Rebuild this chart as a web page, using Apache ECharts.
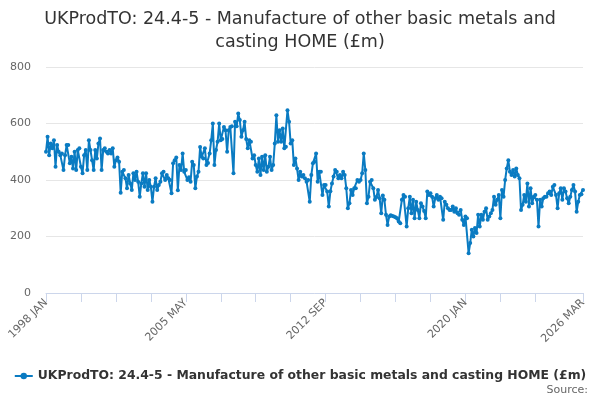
<!DOCTYPE html>
<html>
<head>
<meta charset="utf-8">
<script src="https://cdn.jsdelivr.net/npm/echarts@6/dist/echarts.min.js"></script>
<style>
  html, body { margin: 0; padding: 0; background: #fff; }
  #chart { width: 600px; height: 400px; }
</style>
</head>
<body>
<div id="chart"></div>
<script>
// 标题/图例文字
var titleText = 'UKProdTO: 24.4-5 - Manufacture of other basic metals and\ncasting HOME (£m)';
var seriesName = 'UKProdTO: 24.4-5 - Manufacture of other basic metals and casting HOME (£m)';

// 月份 1998 JAN .. 2026 MAR
var monthNames = ['JAN','FEB','MAR','APR','MAY','JUN','JUL','AUG','SEP','OCT','NOV','DEC'];
var startYear = 1998;
var endYear = 2026, endMonth = 3;

// 每年的月度数值
var values = [
  500, 553, 488, 529, 512, 541, 447, 524, 500, 488, 494, 435, // 1998
  488, 524, 524, 459, 482, 441, 500, 435, 506, 512, 447, 424, // 1999
  488, 506, 435, 541, 506, 470, 435, 506, 476, 529, 547, 435, // 2000
  506, 512, 500, 494, 506, 494, 512, 447, 470, 480, 465, 355, // 2001
  429, 435, 406, 371, 418, 388, 365, 424, 400, 429, 394, 341, // 2002
  388, 424, 376, 424, 365, 400, 376, 323, 376, 406, 365, 382, // 2003
  394, 424, 429, 400, 418, 406, 400, 353, 459, 470, 480, 364, // 2004
  453, 435, 494, 429, 435, 400, 410, 394, 465, 453, 371, 412, // 2005
  429, 517, 482, 476, 512, 453, 460, 494, 541, 600, 453, 506, // 2006
  535, 600, 541, 545, 588, 576, 500, 576, 588, 590, 424, 606, // 2007
  590, 635, 612, 553, 576, 606, 545, 512, 541, 535, 476, 488, // 2008
  453, 429, 476, 418, 482, 435, 488, 429, 447, 482, 435, 453, // 2009
  529, 629, 535, 576, 535, 582, 512, 518, 647, 606, 529, 541, // 2010
  453, 476, 441, 400, 429, 412, 418, 406, 394, 400, 323, 418, // 2011
  459, 465, 494, 394, 429, 429, 347, 382, 382, 359, 306, 360, // 2012
  388, 412, 435, 429, 406, 418, 406, 429, 418, 371, 300, 318, // 2013
  365, 347, 371, 371, 400, 394, 400, 424, 494, 435, 318, 341, // 2014
  394, 400, 371, 330, 340, 365, 335, 282, 345, 330, 277, 241, // 2015
  271, 275, 273, 271, 268, 265, 253, 247, 330, 347, 341, 235, // 2016
  300, 341, 282, 330, 265, 323, 294, 265, 318, 306, 290, 265, // 2017
  359, 347, 353, 341, 306, 335, 347, 330, 341, 335, 259, 323, // 2018
  312, 300, 294, 294, 306, 288, 300, 282, 277, 294, 259, 241, // 2019
  271, 265, 141, 177, 224, 200, 230, 212, 277, 235, 277, 259, // 2020
  288, 300, 259, 271, 282, 294, 341, 312, 330, 347, 265, 365, // 2021
  341, 400, 441, 470, 429, 418, 435, 412, 441, 418, 406, 294, // 2022
  312, 347, 323, 388, 306, 371, 318, 341, 347, 330, 235, 330, // 2023
  306, 335, 341, 341, 353, 359, 347, 376, 382, 347, 300, 353, // 2024
  371, 330, 371, 359, 335, 318, 341, 365, 382, 359, 288, 323, // 2025
  347, 350, 365                                               // 2026
];

// y轴刻度
var yTicks = [0, 200, 400, 600, 800];

var categories = [];
for (var y = startYear; y <= endYear; y++) {
  for (var m = 0; m < 12; m++) {
    if (y === endYear && m >= endMonth) break;
    categories.push(y + ' ' + monthNames[m]);
  }
}
var lastIdx = categories.length - 1;

var chart = echarts.init(document.getElementById('chart'));

var option = {
  animation: false,
  textStyle: { fontFamily: 'DejaVu Sans' },
  title: [{
    text: titleText,
    left: 'center',
    top: 3,
    textStyle: { fontSize: 17.5, fontWeight: 'normal', color: '#333', lineHeight: 23, fontFamily: 'DejaVu Sans' }
  }],
  legend: {
    data: [seriesName],
    top: 365,
    left: 'center',
    itemWidth: 18,
    itemHeight: 8,
    textStyle: { fontSize: 12.4, fontWeight: 'bold', color: '#333', fontFamily: 'DejaVu Sans' }
  },
  graphic: [{
    type: 'text',
    right: 12,
    top: 385,
    style: { text: 'Source:', fontSize: 11, fill: '#666', fontFamily: 'DejaVu Sans' }
  }],
  grid: { left: 46, right: 17, top: 67, bottom: 107 },
  xAxis: [{
    type: 'category',
    boundaryGap: false,
    data: categories,
    axisLine: { lineStyle: { color: '#ccd6eb' } },
    axisTick: {
      length: 9,
      lineStyle: { color: '#ccd6eb' },
      interval: function (i) { return (i % 22 === 0 && i <= 308) || i === lastIdx; }
    },
    axisLabel: {
      rotate: 45,
      color: '#666',
      fontSize: 11,
      margin: 8,
      interval: function (i) { return i % 88 === 0 || i === lastIdx; }
    }
  }],
  yAxis: [{
    type: 'value',
    min: yTicks[0],
    max: yTicks[yTicks.length - 1],
    interval: 200,
    axisLine: { show: false },
    axisTick: { show: false },
    axisLabel: { color: '#666', fontSize: 11, margin: 15 },
    splitLine: { lineStyle: { color: '#e6e6e6' } }
  }],
  series: [{
    name: seriesName,
    type: 'line',
    data: values,
    symbol: 'circle',
    symbolSize: 4,
    showAllSymbol: true,
    itemStyle: { color: '#0a7bc2' },
    lineStyle: { width: 2, color: '#0a7bc2' }
  }]
};

chart.setOption(option);
</script>
</body>
</html>
